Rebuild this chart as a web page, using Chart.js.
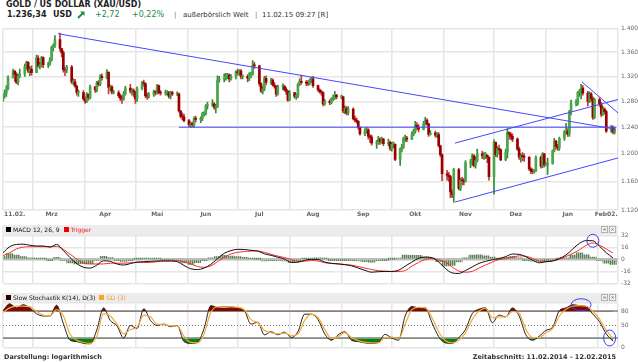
<!DOCTYPE html>
<html lang="de">
<head>
<meta charset="utf-8">
<title>Gold / US Dollar</title>
<script src="https://cdn.jsdelivr.net/npm/chart.js@4.4.1/dist/chart.umd.min.js"></script>
<style>
  html, body { margin: 0; padding: 0; background: #fff; }
  body { position: relative; width: 638px; height: 362px; overflow: hidden; font-family: 'DejaVu Sans', Verdana, sans-serif; color: #222; }
  canvas { position: absolute; left: 0; }
  .t { position: absolute; white-space: nowrap; line-height: 10px; }
  .band { position: absolute; left: 2px; width: 616px; height: 10px; background: #ececec; }
  .sq { display: inline-block; width: 5px; height: 5px; margin: 0 2px 0 0; }
  .btn { position: absolute; width: 5px; height: 5px; border: 1px solid #b0b0b0; background: #f7f7f7; font-size: 5px; line-height: 5px; text-align: center; color: #555; }
</style>
</head>
<body>
<div class="t" style="left:6px;top:0;font-weight:bold;font-size:8px">GOLD / US DOLLAR (XAU/USD)</div>
<div class="t" style="left:7px;top:10px;font-weight:bold;font-size:8px">1.236,34</div>
<div class="t" style="left:53px;top:10px;font-weight:bold;font-size:8px">USD</div>
<svg style="position:absolute;left:77px;top:11px" width="8" height="8" viewBox="0 0 8 8"><path d="M1 7 L5.5 2.5" stroke="#1f8a3c" stroke-width="1.8"/><path d="M7.5 0.5 L7.5 5 L3 0.5 Z" fill="#1f8a3c"/></svg>
<div class="t" style="left:95px;top:10px;font-size:8px;color:#1f8a3c">+2,72</div>
<div class="t" style="left:132px;top:10px;font-size:8px;color:#1f8a3c">+0,22%</div>
<div class="t" style="left:174px;top:10px;font-size:7px;color:#777">|</div>
<div class="t" style="left:183px;top:10px;font-size:7px;color:#333">außerbörslich Welt</div>
<div class="t" style="left:255px;top:10px;font-size:7px;color:#777">|</div>
<div class="t" style="left:262px;top:10px;font-size:7px;color:#333">11.02.15 09:27 [R]</div>

<div class="band" style="top:225px"></div>
<div class="band" style="top:293px;height:9px"></div>

<canvas id="kurs" width="638" height="204" style="top:20px"></canvas>
<canvas id="macd" width="638" height="64" style="top:226px"></canvas>
<canvas id="stoch" width="638" height="60" style="top:294px"></canvas>

<div class="t" style="left:6px;top:225px;font-size:6px;color:#111"><span class="sq" style="background:#000"></span>MACD 12, 26, 9 <span class="sq" style="background:#e00;margin-left:2px"></span><span style="color:#e22">Trigger</span></div>
<div class="btn" style="left:601px;top:226px">=</div>
<div class="btn" style="left:609px;top:226px">×</div>
<div class="t" style="left:6px;top:292.5px;font-size:6px;color:#111"><span class="sq" style="background:#300"></span>Slow Stochastik K(14), D(3) <span class="sq" style="background:#f5a623;margin-left:2px"></span><span style="color:#f0a030">GD (3)</span></div>
<div class="btn" style="left:601px;top:294px">=</div>
<div class="btn" style="left:609px;top:294px">×</div>

<div class="t" style="left:4px;top:352px;font-size:6.5px;font-weight:bold;color:#333">Darstellung: logarithmisch</div>
<div class="t" style="right:22px;top:352px;font-size:6.5px;font-weight:bold;color:#333">Zeitabschnitt: 11.02.2014 - 12.02.2015</div>

<script>
// Tageskerzen ab Di 11.02.2014 (nur Werktage). Gold wird rund um die Uhr gehandelt,
// darum eroeffnet jede Kerze beim Schluss des Vortags.
const firstOpen = 1282;
const close = [
  1289,1293,1300,1318,1328,1323,1310,1321,1324,1336,1343,1329,1332,1326,
  1350,1337,1338,1351,1339,1340,1347,1368,1370,1381,1366,1359,1331,1330,1335,1311,1311,1304,1294,1294,
  1284,1280,1291,1286,1303, 1298,1310,1307,1320,1318, 1327,1302,1303,1294,1294, 1289,1285,1284,1292,1301,
  1296,1297,1295,1284,1300, 1309,1308,1289,1288,1291, 1295,1294,1305,1294,1293, 1294,1294,1288,1294,1292,
  1292,1265,1257,1256,1250, 1244,1245,1244,1253,1252, 1253,1261,1261,1273,1275, 1276,1271,1272,1314,1316,
  1318,1321,1322,1316,1320, 1327,1326,1329,1320,1320, 1317,1324,1324,1338,1337, 1308,1296,1300,1317,1310,
  1314,1306,1304,1292,1303, 1304,1299,1296,1282,1294, 1288,1289,1307,1312,1310, 1309,1308,1313,1316,1305,
  1298,1295,1294,1276,1280, 1278,1284,1285,1290,1287, 1287,1265,1269,1262,1268, 1253,1251,1249,1240,1230,
  1235,1236,1226,1225,1216, 1216,1222,1218,1222,1215, 1217,1208,1214,1214,1192, 1207,1210,1223,1223,1222,
  1229,1234,1243,1240,1237, 1245,1251,1245,1229,1231, 1228,1229,1212,1199,1171, 1169,1167,1145,1141,1177,
  1150,1162,1161,1160,1187, 1187,1197,1183,1190,1200, 1197,1197,1198,1195,1167, 1217,1199,1208,1206,1191,
  1203,1232,1229,1226,1222, 1207,1195,1197,1196,1195, 1178,1175,1174,1175,1195, 1182,1200,1184,1185,1186,
  1205,1219,1211,1209,1223, 1233,1234,1230,1264,1277, 1277,1294,1294,1301,1293, 1280,1292,1284,1255,1283,
  1275,1260,1268,1264,1234, 1240,1233,1236
];
const high = [
  1292,1298,1305,1321,1332,1330,1326,1324,1332,1340,1345,1344,1336,1337,
  1355,1354,1343,1353,1352,1343,1351,1370,1374,1388,1392,1366,1362,1335,1338,1338,1316,1315,1306,1298,
  1297,1287,1294,1292,1306, 1304,1312,1313,1323,1324, 1331,1327,1306,1305,1297, 1297,1292,1289,1296,1304,
  1307,1300,1300,1296,1303, 1312,1314,1310,1293,1294, 1298,1297,1307,1306,1297, 1298,1297,1296,1296,1296,
  1295,1293,1266,1262,1260, 1252,1248,1248,1256,1257, 1256,1263,1264,1275,1279, 1283,1278,1275,1321,1320,
  1324,1325,1325,1324,1323, 1329,1332,1331,1331,1322, 1323,1326,1327,1346,1343, 1338,1310,1303,1320,1321,
  1317,1316,1310,1305,1306, 1308,1306,1302,1297,1297, 1294,1292,1309,1316,1322, 1313,1313,1316,1319,1320,
  1306,1300,1298,1295,1283, 1283,1286,1290,1296,1291, 1290,1288,1273,1272,1272, 1270,1257,1254,1250,1241,
  1238,1240,1238,1229,1228, 1220,1226,1224,1225,1223, 1222,1219,1217,1218,1215, 1209,1214,1225,1228,1226,
  1233,1237,1249,1247,1244, 1249,1255,1253,1246,1235, 1234,1232,1232,1213,1200, 1176,1173,1169,1148,1179,
  1179,1165,1166,1164,1190, 1192,1200,1199,1196,1207, 1204,1202,1202,1199,1196, 1221,1218,1211,1213,1208,
  1207,1238,1233,1232,1230, 1224,1210,1200,1202,1200, 1196,1180,1178,1177,1197, 1197,1202,1201,1187,1194,
  1206,1223,1220,1214,1225, 1235,1246,1238,1266,1282, 1283,1296,1299,1307,1305, 1296,1295,1294,1287,1285,
  1286,1278,1272,1270,1266, 1243,1242,1239
];
const low = [
  1280,1285,1288,1298,1317,1312,1308,1306,1318,1320,1332,1326,1321,1322,
  1326,1335,1332,1335,1334,1334,1338,1345,1362,1368,1362,1352,1327,1321,1326,1308,1306,1302,1290,1288,
  1282,1277,1278,1282,1284, 1294,1295,1304,1305,1314, 1316,1292,1297,1292,1292, 1286,1281,1277,1282,1290,
  1293,1290,1287,1277,1280, 1298,1304,1286,1283,1285, 1288,1290,1292,1292,1290, 1290,1290,1285,1284,1289,
  1289,1263,1254,1251,1248, 1241,1240,1241,1240,1248, 1247,1250,1257,1259,1268, 1272,1268,1262,1270,1310,
  1311,1314,1316,1311,1314, 1316,1322,1322,1316,1316, 1311,1313,1318,1322,1333, 1304,1294,1292,1297,1306,
  1307,1304,1301,1288,1290, 1298,1296,1291,1280,1281, 1285,1283,1286,1305,1307, 1305,1305,1306,1310,1302,
  1296,1293,1290,1273,1274, 1275,1276,1281,1283,1284, 1284,1262,1261,1259,1259, 1251,1248,1246,1237,1228,
  1227,1231,1222,1217,1213, 1208,1214,1214,1216,1212, 1212,1205,1204,1209,1190, 1183,1203,1208,1218,1218,
  1221,1227,1231,1236,1233, 1236,1243,1243,1226,1228, 1225,1224,1210,1196,1161, 1162,1160,1137,1137,1131,
  1148,1147,1155,1155,1159, 1180,1183,1181,1179,1188, 1193,1192,1193,1187,1162, 1142,1196,1195,1200,1190,
  1190,1194,1222,1221,1218, 1205,1192,1188,1190,1189, 1176,1171,1171,1172,1174, 1179,1180,1181,1183,1170,
  1185,1203,1207,1205,1205, 1220,1229,1226,1226,1259, 1273,1274,1288,1284,1290, 1273,1278,1280,1252,1253,
  1272,1256,1258,1260,1232, 1232,1230,1230
];

// eingezeichnete Trendlinien: [Tag seit 11.02.2014, Kurs]
const trendLines = [
  [[32.8, 1391], [365.5, 1237]],
  [[105, 1240], [366, 1240]],
  [[269.7, 1131], [367, 1194]],
  [[269.7, 1216], [367, 1283]],
  [[345.5, 1311], [367, 1262]]
];

const priceTicks = [1120, 1160, 1200, 1240, 1280, 1320, 1360, 1400];
const monthStarts = [18, 49, 79, 110, 140, 171, 202, 232, 263, 293, 324, 355];
const axisLabels = ['11.02.', 'Mrz', 'Apr', 'Mai', 'Jun', 'Jul', 'Aug', 'Sep', 'Okt', 'Nov', 'Dez', 'Jan', 'Feb02.'];
const axisLabelDays = [7, 29, 61, 92, 121, 153, 185, 215, 246, 276, 306, 337, 360];

const macdLine = [
  9, 17, 20, 20.4, 19, 18, 18, 16.5, 20, 12,
  2.5, -5.5, -10.5, -11.5, -7.5, -1.8, -2.5, -6, -7.5, -5.5,
  -3.5, -3, -2.5, -2, -2, -2, -3, -8, -12.5, -13.5,
  -11.5, -6.5, 1, 8.2, 11.8, 13.5, 13.3, 12.2, 11.3, 7.5,
  5.5, 3, 0.5, -4, -3.7, -1.2, 0.2, 0,
  -3.5, -5.3, -6, -7, -8.6, -11.5, -14.6, -17, -16.3, -16,
  -16, -14.5, -9, -3.5, 1.5, 3.2, 2.3, -3.5, -12, -18,
  -18.7, -14.7, -10, -5.3, -2.5, -0.4, 1, 3.8, 7.2, 6.8,
  3.7, -1, -4.5, -3, -2.2, 1.3, 6, 14, 21.5, 25.2,
  25, 17.5, 9, 2
];
const triggerLine = [
  5, 9, 14, 16.5, 17, 17, 17, 17, 17.3, 13.5,
  7, 0.6, -5, -6, -6, -6, -5, -5, -5, -4.5,
  -4, -4, -4, -3, -2, -2, -2, -3.2, -6, -9.3,
  -10.5, -8.6, -3, 2.8, 7.2, 9.5, 10.5, 11.2, 11.2, 9.5,
  6.8, 4.5, 2.5, 0, -2.8, -2.3, -1.5, -2,
  -4.4, -5.2, -5.8, -6.7, -7.6, -9.5, -11.5, -13.4, -15, -15.7,
  -16.2, -16.1, -14.8, -9, -4, 0, 1.2, -0.5, -3.5, -10,
  -15.5, -17, -16, -11.5, -7.4, -3.5, 0, 1, 3, 4.8,
  4.3, 1.4, -2, -2.8, -1.5, 0.3, 4, 8, 12.8, 19,
  22, 19, 14, 8.5
];
const stochK = [
  82, 97, 88, 95, 88, 75, 70, 70, 94, 53,
  16, 13, 9, 8, 39, 88, 60, 48, 21, 49,
  42, 86, 60, 49, 52, 46, 49, 13, 9, 11,
  42, 93, 89, 90, 90, 88, 82, 52, 56, 28,
  35, 28, 34, 22, 35, 74, 74, 62,
  30, 16, 28, 35, 16, 13, 10, 9, 11, 29,
  21, 16, 70, 91, 88, 88, 55, 24, 10, 9,
  22, 40, 75, 85, 88, 55, 72, 68, 88, 70,
  28, 16, 25, 38, 45, 82, 88, 95, 93, 91,
  74, 57, 30, 14
];
const stochD = [
  78, 88, 92, 92, 91, 80, 72, 70, 84, 70,
  30, 16, 11, 9, 25, 75, 70, 52, 30, 40,
  45, 72, 68, 52, 51, 48, 48, 25, 11, 10,
  30, 78, 90, 89, 90, 89, 84, 62, 55, 38,
  33, 30, 32, 26, 30, 60, 74, 66,
  40, 20, 24, 33, 22, 15, 11, 10, 10, 22,
  23, 18, 52, 84, 89, 88, 66, 35, 15, 10,
  16, 33, 62, 81, 87, 66, 68, 68, 80, 76,
  40, 22, 22, 33, 42, 70, 85, 92, 93, 92,
  80, 63, 38, 20
];
const macdTicks = [-32, -16, 0, 16, 32];
const stochTicks = [0, 20, 50, 80, 100];
const stochLabels = [0, 50, 80];

// Markierungen (Kreise) in den Indikatoren
const macdRings = [{ day: 352, value: 25 }];
const stochRings = [{ day: 345, value: 95 }, { day: 362, value: 21 }];

Chart.defaults.font.family = "'DejaVu Sans', Verdana, sans-serif";
Chart.defaults.color = '#666';

const GRID = '#e6e6e6';
const X_MIN = 0, X_MAX = 367;

const tradeDays = [];
for (let d = 0; tradeDays.length < close.length; d++) {
  if ((d + 1) % 7 < 5) tradeDays.push(d); // 11.02.2014 war ein Dienstag
}
const indDays = macdLine.map((v, i) => i * 4);
const open = close.map((c, i) => i ? close[i - 1] : firstOpen);
const rising = close.map((c, i) => c >= open[i]);
const pts = (xs, ys) => xs.map((x, i) => ({ x, y: ys[i] }));
const fmtPrice = v => String(v).replace(/^(\d)(\d{3})$/, '$1.$2');

function gridAxis() {
  return {
    type: 'linear', min: X_MIN, max: X_MAX, offset: false,
    grid: { offset: false, color: GRID, lineWidth: 1.5, drawTicks: false },
    border: { display: false },
    ticks: { display: false },
    afterBuildTicks: s => { s.ticks = [X_MIN, ...monthStarts, X_MAX].map(v => ({ value: v })); },
    afterFit: s => { s.height = 0; }
  };
}

function rightAxis(opts) {
  return Object.assign({
    position: 'right',
    grid: { color: GRID, lineWidth: 1.5, drawTicks: false },
    border: { display: false },
    ticks: { padding: 3, font: { size: 6 }, color: '#666' },
    afterFit: s => { s.width = 20; }
  }, opts);
}

const ringPlugin = {
  id: 'rings',
  afterDatasetsDraw(chart, args, opts) {
    const { ctx, scales: { x, y } } = chart;
    ctx.save();
    ctx.strokeStyle = '#3c3cff';
    ctx.lineWidth = 1;
    opts.items.forEach((r, i) => {
      const [rx, ry] = opts.radii[i];
      ctx.beginPath();
      ctx.ellipse(x.getPixelForValue(r.day), y.getPixelForValue(r.value), rx, ry, 0, 0, Math.PI * 2);
      ctx.stroke();
    });
    ctx.restore();
  }
};

const dottedPlugin = {
  id: 'dotted',
  beforeDatasetsDraw(chart, args, opts) {
    const { ctx, chartArea: a, scales: { y } } = chart;
    const py = Math.round(y.getPixelForValue(opts.value)) + 0.5;
    ctx.save();
    ctx.setLineDash([1, 2]);
    ctx.strokeStyle = '#777';
    ctx.lineWidth = 1;
    ctx.beginPath();
    ctx.moveTo(a.left, py);
    ctx.lineTo(a.right, py);
    ctx.stroke();
    ctx.restore();
  }
};

// Histogramm wird schraffiert gezeichnet wie im Original
function stripes() {
  const c = document.createElement('canvas');
  c.width = 2; c.height = 1;
  const g = c.getContext('2d');
  g.fillStyle = '#5a8254'; g.fillRect(0, 0, 1, 1);
  g.fillStyle = '#a9c0a4'; g.fillRect(1, 0, 1, 1);
  return g.createPattern(c, 'repeat');
}

const base = {
  responsive: false, devicePixelRatio: 1, animation: false,
  events: [],
  plugins: { legend: { display: false }, tooltip: { enabled: false } }
};

// Kurschart
new Chart(document.getElementById('kurs'), {
  type: 'bar',
  data: {
    datasets: [
      {
        type: 'bar', data: tradeDays.map((d, i) => ({ x: d, y: [low[i], high[i]] })),
        backgroundColor: rising.map(r => r ? '#2f8f2f' : '#c23a3a'),
        barThickness: 1, grouped: false, order: 3
      },
      {
        type: 'bar', data: tradeDays.map((d, i) => ({ x: d, y: [open[i], close[i]] })),
        backgroundColor: rising.map(r => r ? '#4da64d' : '#990000'),
        barThickness: 2, minBarLength: 1, grouped: false, order: 2
      },
      ...trendLines.map(t => ({
        type: 'line', data: t.map(([x, y]) => ({ x, y })),
        borderColor: '#4646ff', borderWidth: 1, pointRadius: 0, order: 1
      }))
    ]
  },
  options: {
    ...base,
    layout: { padding: { left: 3, top: 8.5, right: 0, bottom: 0 } },
    scales: {
      x: gridAxis(),
      xl: {
        type: 'linear', position: 'bottom', min: X_MIN, max: X_MAX, offset: false,
        grid: { display: false, drawTicks: false }, border: { display: false },
        ticks: { autoSkip: false, maxRotation: 0, padding: 1, font: { size: 6, weight: 'bold' }, color: '#666', callback: (v, i) => axisLabels[i] },
        afterBuildTicks: s => { s.ticks = axisLabelDays.map(v => ({ value: v })); },
        afterFit: s => { s.height = 14; }
      },
      y: rightAxis({
        type: 'logarithmic', min: 1120, max: 1400,
        ticks: { padding: 3, font: { size: 6 }, color: '#666', callback: v => fmtPrice(v) },
        afterBuildTicks: s => { s.ticks = priceTicks.map(v => ({ value: v })); }
      })
    }
  }
});

// MACD
new Chart(document.getElementById('macd'), {
  type: 'bar',
  data: {
    datasets: [
      { type: 'line', data: pts(indDays, macdLine), borderColor: '#111', borderWidth: 1, pointRadius: 0, cubicInterpolationMode: 'monotone', order: 1 },
      { type: 'line', data: pts(indDays, triggerLine), borderColor: '#ff2b2b', borderWidth: 1, pointRadius: 0, cubicInterpolationMode: 'monotone', order: 2 },
      {
        type: 'bar', data: pts(indDays, macdLine.map((v, i) => v - triggerLine[i])),
        backgroundColor: stripes(), barPercentage: 1, categoryPercentage: 1, grouped: false, order: 3
      }
    ]
  },
  plugins: [ringPlugin],
  options: {
    ...base,
    layout: { padding: { left: 3, top: 9.5, right: 0, bottom: 6.5 } },
    plugins: { ...base.plugins, rings: { items: macdRings, radii: [[6, 6.5]] } },
    scales: {
      x: gridAxis(),
      y: rightAxis({
        type: 'linear', min: -32, max: 32,
        grid: {
          drawTicks: false,
          color: c => c.tick.value === 0 ? '#bdbdbd' : GRID,
          lineWidth: c => c.tick.value === 0 ? 2.5 : 1.5
        },
        ticks: { padding: 3, font: { size: 6 }, color: '#666', callback: v => String(v) },
        afterBuildTicks: s => { s.ticks = macdTicks.map(v => ({ value: v })); }
      })
    }
  }
});

// Slow Stochastik
const kPts = pts(indDays, stochK);
const none = 'rgba(0,0,0,0)';
new Chart(document.getElementById('stoch'), {
  type: 'line',
  data: {
    datasets: [
      { data: kPts, borderColor: none, borderWidth: 1, pointRadius: 0, cubicInterpolationMode: 'monotone', fill: { target: { value: 80 }, above: '#7d0b00', below: none }, order: 4 },
      { data: kPts, borderColor: none, borderWidth: 1, pointRadius: 0, cubicInterpolationMode: 'monotone', fill: { target: { value: 20 }, above: none, below: '#0d7f0d' }, order: 3 },
      { data: kPts, borderColor: '#222', borderWidth: 1, pointRadius: 0, cubicInterpolationMode: 'monotone', order: 2 },
      { data: pts(indDays, stochD), borderColor: '#f5a93a', borderWidth: 1.2, pointRadius: 0, cubicInterpolationMode: 'monotone', order: 1 }
    ]
  },
  plugins: [ringPlugin, dottedPlugin],
  options: {
    ...base,
    layout: { padding: { left: 3, top: 8.5, right: 0, bottom: 4 } },
    plugins: { ...base.plugins, rings: { items: stochRings, radii: [[10, 6], [6, 8]] }, dotted: { value: 50 } },
    scales: {
      x: gridAxis(),
      y: rightAxis({
        type: 'linear', min: 0, max: 100,
        grid: {
          drawTicks: false,
          color: c => (c.tick.value === 20 || c.tick.value === 80) ? '#a0a0a0' : (c.tick.value === 50 ? none : GRID),
          lineWidth: c => (c.tick.value === 20 || c.tick.value === 80) ? 2 : 1.5
        },
        ticks: { padding: 3, font: { size: 6 }, color: '#666', callback: v => stochLabels.includes(v) ? String(v) : '' },
        afterBuildTicks: s => { s.ticks = stochTicks.map(v => ({ value: v })); }
      })
    }
  }
});
</script>
</body>
</html>
